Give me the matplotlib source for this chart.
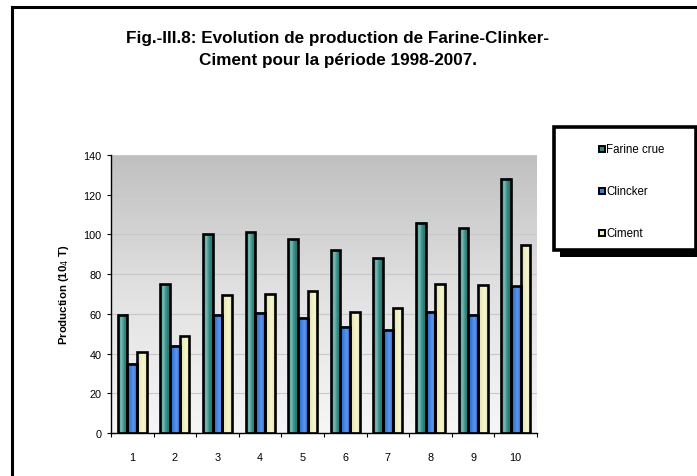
import numpy as np
import matplotlib
matplotlib.use("Agg")
import matplotlib.pyplot as plt
from matplotlib.colors import LinearSegmentedColormap
from matplotlib.patches import Rectangle

plt.rcParams['font.family'] = ['Liberation Sans', 'DejaVu Sans']

# données
annees = ['1', '2', '3', '4', '5', '6', '7', '8', '9', '10']
farine = [59.5, 75, 100, 101, 97.5, 92, 88, 106, 103, 128]
clinker = [35, 44, 59.5, 60.5, 58, 53.5, 52, 61, 59.5, 74]
ciment = [41, 49, 69.5, 70, 71.5, 61, 63, 75, 74.5, 94.5]
series = ['Farine crue', 'Clincker', 'Ciment']

# dégradés horizontaux des barres (style Excel)
grad = {
    'Farine crue': ['#3f918a', '#79bbb4', '#2f8680', '#24736d'],
    'Clincker': ['#2a5fc0', '#3d7ddc', '#5a97ee', '#2c66cc'],
    'Ciment': ['#dcdcae', '#ececc0', '#f6f6cc', '#e4e4b4'],
}
leg_col = {'Farine crue': '#2f8680', 'Clincker': '#3d7ddc', 'Ciment': '#eeeebb'}

fig = plt.figure(figsize=(6.97, 4.77), dpi=100, facecolor='white')
ax = fig.add_axes([111/697, 1-434/477, (537-111)/697, (434-156)/477])

# fond dégradé vertical gris
bg = np.linspace(0, 1, 256).reshape(-1, 1)
bgmap = LinearSegmentedColormap.from_list('bg', ['#f6f6f6', '#e2e2e2', '#c0c0c0'])
ax.imshow(bg, cmap=bgmap, origin='lower', extent=[0, 1, 0, 1], aspect='auto',
          transform=ax.transAxes, zorder=0)

x = np.arange(1, len(annees) + 1)
w = 0.227
for k, (nom, vals) in enumerate(zip(series, [farine, clinker, ciment])):
    bars = ax.bar(x + (k - 1) * w, vals, w, facecolor='none', edgecolor='black',
                  linewidth=1.9, zorder=3)
    cmap = LinearSegmentedColormap.from_list(nom, grad[nom])
    g = np.linspace(0, 1, 64).reshape(1, -1)
    for b in bars:
        x0 = b.get_x()
        ax.imshow(g, cmap=cmap, extent=[x0, x0 + b.get_width(), 0, b.get_height()],
                  aspect='auto', zorder=2)

ax.set_xlim(0.5, len(annees) + 0.5)
ax.set_ylim(0, 140)
ax.set_yticks(range(0, 141, 20))
ax.yaxis.grid(True, color='#c8c8c8', linewidth=0.8, zorder=1)
ax.set_axisbelow(True)
ax.set_xticks(x)
ax.set_xticklabels(annees)
ax.set_xticks(np.arange(0.5, len(annees) + 1, 1), minor=True)
ax.tick_params(axis='x', which='major', length=0, pad=14, labelsize=7.8)
ax.tick_params(axis='x', which='minor', length=3, direction='out', width=0.8)
ax.tick_params(axis='y', length=3, direction='out', width=0.8, labelsize=7.8, pad=4)
for s in ['top', 'right']:
    ax.spines[s].set_visible(False)
ax.spines['left'].set_linewidth(1.0)
ax.spines['bottom'].set_linewidth(1.0)
ax.set_ylabel('Production (10$_4$ T)', fontsize=8.2, fontweight='bold', labelpad=9)

# titre
fig.text(338/697, 1-38/477, 'Fig.-III.8: Evolution de production de Farine-Clinker-',
         ha='center', va='center', fontsize=12.3, fontweight='bold')
fig.text(338/697, 1-60/477, 'Ciment pour la période 1998-2007.',
         ha='center', va='center', fontsize=12.3, fontweight='bold')

# cadre extérieur
fig.add_artist(plt.Line2D([12/697, 1], [1-8/477, 1-8/477], color='black', linewidth=2.2))
fig.add_artist(plt.Line2D([12/697, 12/697], [0, 1-8/477], color='black', linewidth=2.2))

# légende encadrée avec ombre
fig.add_artist(Rectangle((560/697, 1-258/477), 140/697, (258-132)/477,
                         transform=fig.transFigure, facecolor='black', edgecolor='none'))
fig.add_artist(Rectangle((554/697, 1-251/477), 142/697, (251-128)/477,
                         transform=fig.transFigure, facecolor='white', edgecolor='black',
                         linewidth=2.6))
for k, nom in enumerate(series):
    yy = 1 - (150 + 42 * k) / 477
    fig.add_artist(Rectangle((599/697, yy - 3/477), 6/697, 6/477, transform=fig.transFigure,
                             facecolor=leg_col[nom], edgecolor='black', linewidth=1.4))
    fig.text(606/697, yy, nom, ha='left', va='center', fontsize=8.3)

fig.savefig('out.png', dpi=100)
